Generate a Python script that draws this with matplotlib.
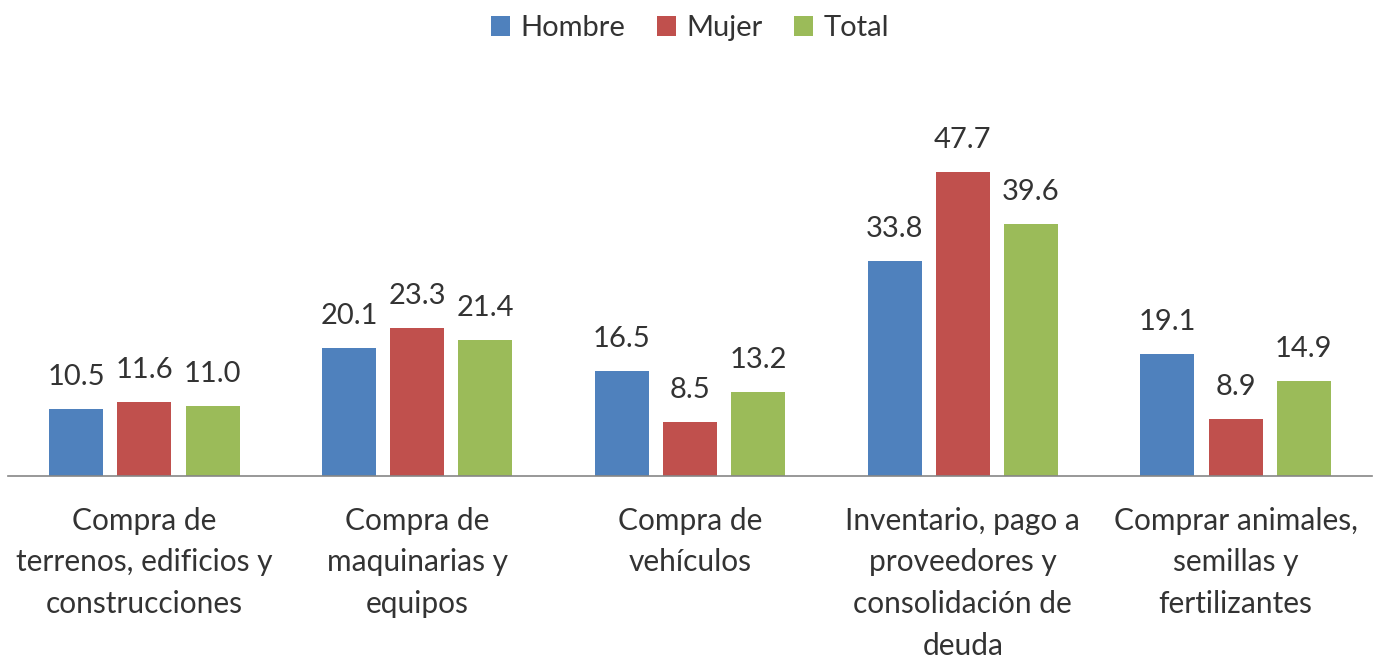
import matplotlib.pyplot as plt
import numpy as np

plt.rcParams['font.family'] = ['Lato', 'DejaVu Sans']

categories = ['Compra de\nterrenos, edificios y\nconstrucciones',
              'Compra de\nmaquinarias y\nequipos',
              'Compra de\nvehículos',
              'Inventario, pago a\nproveedores y\nconsolidación de\ndeuda',
              'Comprar animales,\nsemillas y\nfertilizantes']
hombre = [10.5, 20.1, 16.5, 33.8, 19.1]
mujer = [11.6, 23.3, 8.5, 47.7, 8.9]
total = [11.0, 21.4, 13.2, 39.6, 14.9]

series = [('Hombre', hombre, '#4F81BD'),
          ('Mujer', mujer, '#C0504D'),
          ('Total', total, '#9BBB59')]

fig = plt.figure(figsize=(13.78, 6.58), dpi=100)
ax = fig.add_axes([8/1378, 1-476/658, 1364/1378, (476-94)/658])

x = np.arange(len(categories))
w = 0.198
for k, (name, vals, col) in enumerate(series):
    pos = x + (k-1)*0.25
    ax.bar(pos, vals, w, color=col, label=name)
    for p, v in zip(pos, vals):
        ax.text(p, v + 3.0, f'{v:.1f}', ha='center', va='bottom',
                fontsize=21, color='#333333')

ax.set_xlim(-0.5, 4.5)
ax.set_ylim(0, 60)
ax.set_yticks([])
ax.set_xticks(x)
ax.set_xticklabels(categories, fontsize=21.5, color='#333333', linespacing=1.6)
ax.tick_params(axis='x', length=0, pad=22)
for s in ['top', 'right', 'left']:
    ax.spines[s].set_visible(False)
ax.spines['bottom'].set_color('#868686')
ax.spines['bottom'].set_linewidth(1.2)

ax.legend(loc='upper center', bbox_to_anchor=(0.5, 1.275), ncol=3, frameon=False,
          fontsize=21, handlelength=0.65, handleheight=0.65, handletextpad=0.35,
          columnspacing=1.1, labelcolor='#333333')

fig.savefig('out.png', dpi=100)
